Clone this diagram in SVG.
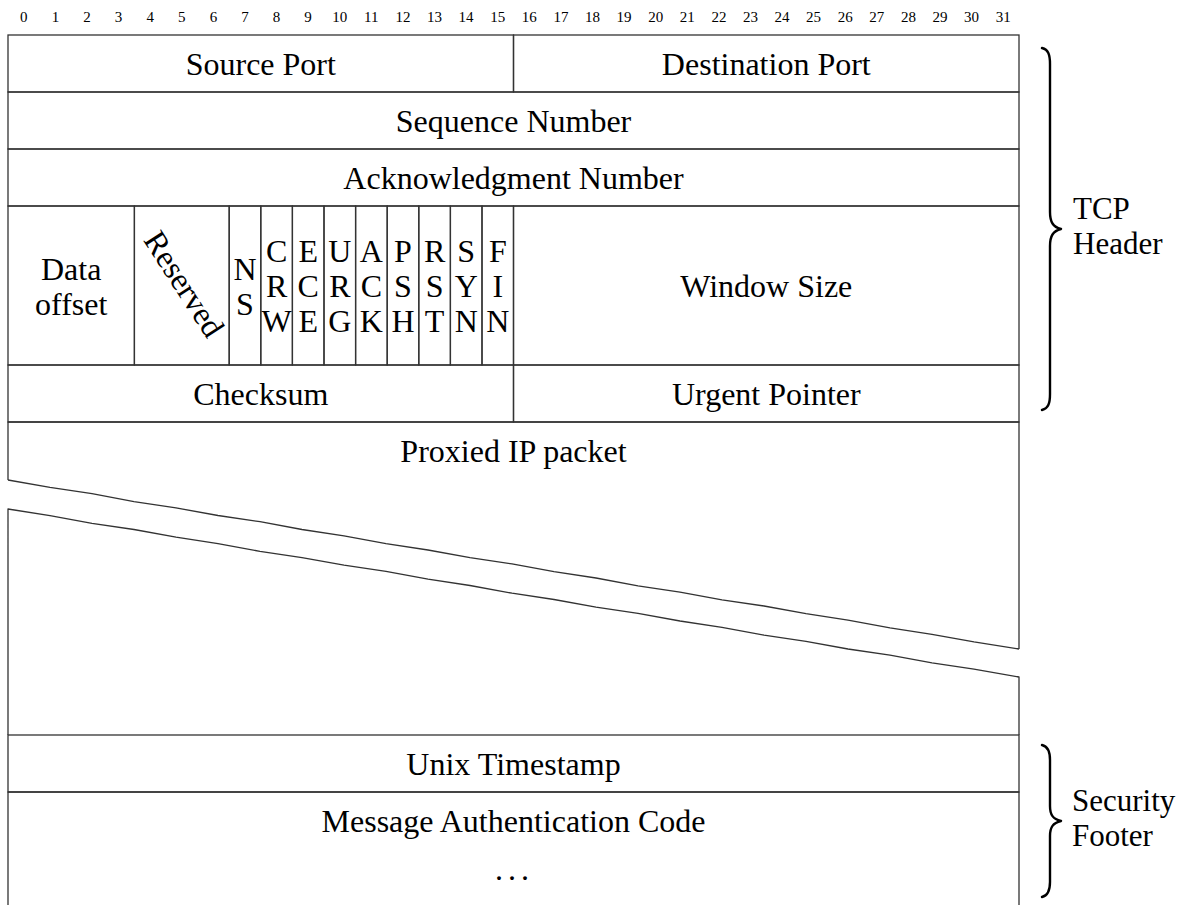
<svg xmlns="http://www.w3.org/2000/svg" width="1187" height="905" viewBox="0 0 1187 905">
  <style>
    text { font-family: "Liberation Serif", "Times New Roman", serif; fill: #000; }
    .lbl { font-size: 32px; text-anchor: middle; }
    .side { font-size: 31px; text-anchor: start; }
    .bit { font-size: 15px; text-anchor: middle; }
    .box { fill: none; stroke: #333; stroke-width: 1.3; }
    .edge { fill: none; stroke: #333; stroke-width: 1.3; stroke-linejoin: round; }
    .brace { fill: none; stroke: #000; stroke-width: 2.4; stroke-linecap: round; stroke-linejoin: round; }
  </style>

  <!-- bit numbering across the 32-bit word -->
  <g id="ruler">
    <text class="bit" x="23.8" y="22">0</text>
    <text class="bit" x="55.4" y="22">1</text>
    <text class="bit" x="87.0" y="22">2</text>
    <text class="bit" x="118.6" y="22">3</text>
    <text class="bit" x="150.2" y="22">4</text>
    <text class="bit" x="181.8" y="22">5</text>
    <text class="bit" x="213.4" y="22">6</text>
    <text class="bit" x="245.0" y="22">7</text>
    <text class="bit" x="276.6" y="22">8</text>
    <text class="bit" x="308.1" y="22">9</text>
    <text class="bit" x="339.7" y="22">10</text>
    <text class="bit" x="371.3" y="22">11</text>
    <text class="bit" x="402.9" y="22">12</text>
    <text class="bit" x="434.5" y="22">13</text>
    <text class="bit" x="466.1" y="22">14</text>
    <text class="bit" x="497.7" y="22">15</text>
    <text class="bit" x="529.3" y="22">16</text>
    <text class="bit" x="560.9" y="22">17</text>
    <text class="bit" x="592.5" y="22">18</text>
    <text class="bit" x="624.1" y="22">19</text>
    <text class="bit" x="655.7" y="22">20</text>
    <text class="bit" x="687.3" y="22">21</text>
    <text class="bit" x="718.9" y="22">22</text>
    <text class="bit" x="750.4" y="22">23</text>
    <text class="bit" x="782.0" y="22">24</text>
    <text class="bit" x="813.6" y="22">25</text>
    <text class="bit" x="845.2" y="22">26</text>
    <text class="bit" x="876.8" y="22">27</text>
    <text class="bit" x="908.4" y="22">28</text>
    <text class="bit" x="940.0" y="22">29</text>
    <text class="bit" x="971.6" y="22">30</text>
    <text class="bit" x="1003.2" y="22">31</text>
  </g>

  <!-- TCP header fields -->
  <g id="source-port">
    <rect class="box" x="8" y="35" width="505.5" height="57"/>
    <text class="lbl" x="260.8" y="75">Source Port</text>
  </g>
  <g id="destination-port">
    <rect class="box" x="513.5" y="35" width="505.5" height="57"/>
    <text class="lbl" x="766.3" y="75">Destination Port</text>
  </g>
  <g id="sequence-number">
    <rect class="box" x="8" y="92" width="1011" height="57"/>
    <text class="lbl" x="513.5" y="132">Sequence Number</text>
  </g>
  <g id="acknowledgment-number">
    <rect class="box" x="8" y="149" width="1011" height="57"/>
    <text class="lbl" x="513.5" y="189">Acknowledgment Number</text>
  </g>

  <g id="data-offset">
    <rect class="box" x="8" y="206" width="126.4" height="159"/>
    <text class="lbl" x="71.2" y="280">Data</text>
    <text class="lbl" x="71.2" y="315">offset</text>
  </g>
  <g id="reserved">
    <rect class="box" x="134.4" y="206" width="94.8" height="159"/>
    <text class="lbl" transform="translate(181.8 285.5) rotate(57)" x="0" y="8">Reserved</text>
  </g>
  <g id="flag-ns">
    <rect class="box" x="229.2" y="206" width="31.6" height="159"/>
    <text class="lbl" x="245" y="280">N</text>
    <text class="lbl" x="245" y="315">S</text>
  </g>
  <g id="flag-cwr">
    <rect class="box" x="260.8" y="206" width="31.6" height="159"/>
    <text class="lbl" x="276.6" y="262">C</text>
    <text class="lbl" x="276.6" y="297">R</text>
    <text class="lbl" x="276.6" y="332">W</text>
  </g>
  <g id="flag-ece">
    <rect class="box" x="292.4" y="206" width="31.6" height="159"/>
    <text class="lbl" x="308.2" y="262">E</text>
    <text class="lbl" x="308.2" y="297">C</text>
    <text class="lbl" x="308.2" y="332">E</text>
  </g>
  <g id="flag-urg">
    <rect class="box" x="324" y="206" width="31.6" height="159"/>
    <text class="lbl" x="339.8" y="262">U</text>
    <text class="lbl" x="339.8" y="297">R</text>
    <text class="lbl" x="339.8" y="332">G</text>
  </g>
  <g id="flag-ack">
    <rect class="box" x="355.6" y="206" width="31.6" height="159"/>
    <text class="lbl" x="371.4" y="262">A</text>
    <text class="lbl" x="371.4" y="297">C</text>
    <text class="lbl" x="371.4" y="332">K</text>
  </g>
  <g id="flag-psh">
    <rect class="box" x="387.2" y="206" width="31.6" height="159"/>
    <text class="lbl" x="403" y="262">P</text>
    <text class="lbl" x="403" y="297">S</text>
    <text class="lbl" x="403" y="332">H</text>
  </g>
  <g id="flag-rst">
    <rect class="box" x="418.8" y="206" width="31.6" height="159"/>
    <text class="lbl" x="434.6" y="262">R</text>
    <text class="lbl" x="434.6" y="297">S</text>
    <text class="lbl" x="434.6" y="332">T</text>
  </g>
  <g id="flag-syn">
    <rect class="box" x="450.4" y="206" width="31.6" height="159"/>
    <text class="lbl" x="466.2" y="262">S</text>
    <text class="lbl" x="466.2" y="297">Y</text>
    <text class="lbl" x="466.2" y="332">N</text>
  </g>
  <g id="flag-fin">
    <rect class="box" x="482" y="206" width="31.5" height="159"/>
    <text class="lbl" x="497.8" y="262">F</text>
    <text class="lbl" x="497.8" y="297">I</text>
    <text class="lbl" x="497.8" y="332">N</text>
  </g>
  <g id="window-size">
    <rect class="box" x="513.5" y="206" width="505.5" height="159"/>
    <text class="lbl" x="766.3" y="297">Window Size</text>
  </g>

  <g id="checksum">
    <rect class="box" x="8" y="365" width="505.5" height="57"/>
    <text class="lbl" x="260.8" y="405">Checksum</text>
  </g>
  <g id="urgent-pointer">
    <rect class="box" x="513.5" y="365" width="505.5" height="57"/>
    <text class="lbl" x="766.3" y="405">Urgent Pointer</text>
  </g>

  <!-- variable-length payload, shown with a torn break -->
  <g id="proxied-ip-packet">
    <path class="edge" d="M8,480 L8,422 L1019,422 L1019,649"/>
    <path class="edge" d="M8,480 L50,487.4 L92,493.7 L134,501.6 L176,507.9 L218,515.5 L260,521.7 L302,529.5 L344,535.9 L386,543.7 L428,550 L470,557.6 L512,563.9 L554,571.6 L596,578 L638,585.8 L680,592.1 L722,599.8 L764,606 L806,613.7 L848,620.1 L890,627.9 L932,634.3 L974,641.9 L1019,649"/>
    <path class="edge" d="M8,735 L8,509 L50,515.7 L92,523.4 L134,529.5 L176,537.2 L218,543.6 L260,551.4 L302,557.6 L344,565.2 L386,571.4 L428,579.1 L470,585.5 L512,593.2 L554,599.5 L596,607.1 L638,613.3 L680,621 L722,627.3 L764,635.1 L806,641.4 L848,649 L890,655.2 L932,662.8 L974,669.2 L1019,677 L1019,735"/>
    <text class="lbl" x="513.5" y="462">Proxied IP packet</text>
  </g>

  <!-- security footer fields -->
  <g id="unix-timestamp">
    <rect class="box" x="8" y="735" width="1011" height="57"/>
    <text class="lbl" x="513.5" y="775">Unix Timestamp</text>
  </g>
  <g id="message-authentication-code">
    <path class="edge" d="M8,910 L8,792 L1019,792 L1019,910"/>
    <text class="lbl" x="513.5" y="832">Message Authentication Code</text>
    <text class="lbl" x="514.5" y="880" letter-spacing="5">...</text>
  </g>

  <!-- section braces -->
  <g id="connectors">
    <path class="brace" d="M1042,48 C1048.5,49.5 1050,55 1050,64 L1050,212 C1050,222 1053,227 1061,229 C1053,231 1050,236 1050,246 L1050,394 C1050,403 1048.5,408.5 1042,410"/>
    <path class="brace" d="M1042,745 C1048.5,746.5 1050,752 1050,760 L1050,806 C1050,815 1053,819 1061,821 C1053,823 1050,827 1050,836 L1050,882 C1050,890 1048.5,895.5 1042,897"/>
  </g>
  <g id="tcp-header-label">
    <text class="side" x="1073" y="219">TCP</text>
    <text class="side" x="1073" y="254">Header</text>
  </g>
  <g id="security-footer-label">
    <text class="side" x="1072" y="811">Security</text>
    <text class="side" x="1072" y="846">Footer</text>
  </g>
</svg>
